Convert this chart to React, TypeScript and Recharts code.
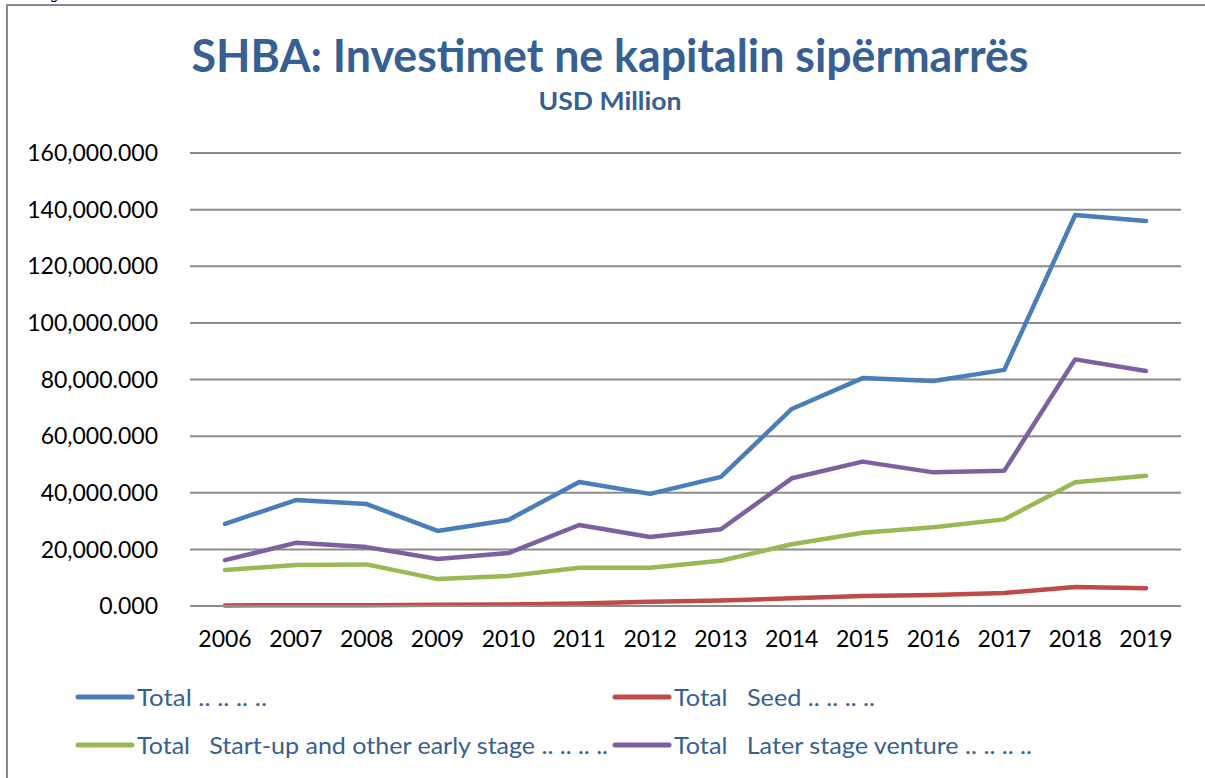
import React from 'react';
import { LineChart, Line, XAxis, YAxis, CartesianGrid, Legend } from 'recharts';

const years = ['2006', '2007', '2008', '2009', '2010', '2011', '2012', '2013', '2014', '2015', '2016', '2017', '2018', '2019'];
const total = [29000, 37400, 36000, 26500, 30400, 43800, 39600, 45600, 69600, 80500, 79500, 83400, 138100, 136000];
const seed = [200, 300, 300, 400, 500, 900, 1500, 1900, 2700, 3500, 3900, 4600, 6700, 6300];
const startup = [12700, 14500, 14700, 9500, 10600, 13500, 13500, 16000, 21800, 25900, 27800, 30600, 43700, 46000];
const later = [16200, 22300, 20800, 16600, 18700, 28600, 24400, 27100, 45100, 51000, 47200, 47800, 87100, 83000];
const yTicks = [0, 20000, 40000, 60000, 80000, 100000, 120000, 140000, 160000];

const series = [
    { key: 'total', name: 'Total .. .. .. ..', color: '#4a7ebb', width: 130 },
    { key: 'seed', name: 'Total   Seed .. .. .. ..', color: '#be4b48', width: 201 },
    { key: 'startup', name: 'Total   Start-up and other early stage .. .. .. ..', color: '#98b954', width: 471 },
    { key: 'later', name: 'Total   Later stage venture .. .. .. ..', color: '#7d60a0', width: 358 },
];

const data = years.map((year, i) => ({
    year,
    total: total[i],
    seed: seed[i],
    startup: startup[i],
    later: later[i],
}));

const fmt = (v: number) => v.toLocaleString('en-US', { minimumFractionDigits: 3, maximumFractionDigits: 3 });

const TEXT_BLUE = '#376092';

const renderLegend = () => {
    // two columns, two rows, like the Excel legend
    const cols = [78, 615];
    const rows = [22, 70];
    return (
        <svg width={1205} height={100}>
            {series.map((s, i) => {
                const x = cols[i % 2];
                const y = rows[Math.floor(i / 2)];
                return (
                    <g key={s.key}>
                        <line x1={x} x2={x + 54} y1={y} y2={y} stroke={s.color} strokeWidth={5} strokeLinecap="round" />
                        <text
                            x={x + 59}
                            y={y + 9}
                            fill={TEXT_BLUE}
                            fontFamily="Lato"
                            fontSize={24}
                            textLength={s.width}
                            lengthAdjust="spacingAndGlyphs"
                            style={{ whiteSpace: 'pre' }}
                        >
                            {s.name}
                        </text>
                    </g>
                );
            })}
        </svg>
    );
};

const App: React.FC = () => {
    return (
        <div style={{ position: 'absolute', left: 0, top: 0, width: 1205, height: 778, overflow: 'hidden', background: '#fff' }}>
            <div
                style={{
                    position: 'absolute',
                    left: 6,
                    top: 4,
                    width: 1210,
                    height: 800,
                    borderLeft: '2px solid #8a8a8a',
                    borderTop: '2px solid #8a8a8a',
                }}
            />
            <svg width={1205} height={120} style={{ position: 'absolute', left: 0, top: 0 }}>
                <text x={52} y={-2} fontFamily="DejaVu Serif" fontStyle="italic" fontSize={18}>y</text>
                <text
                    x={610}
                    y={72}
                    textAnchor="middle"
                    fill={TEXT_BLUE}
                    fontFamily="Lato"
                    fontWeight="bold"
                    fontSize={45}
                    textLength={837}
                    lengthAdjust="spacingAndGlyphs"
                >
                    SHBA: Investimet ne kapitalin sipërmarrës
                </text>
                <text
                    x={610}
                    y={110}
                    textAnchor="middle"
                    fill={TEXT_BLUE}
                    fontFamily="Lato"
                    fontWeight="bold"
                    fontSize={24}
                    textLength={143}
                    lengthAdjust="spacingAndGlyphs"
                >
                    USD Million
                </text>
            </svg>
            <div style={{ position: 'absolute', left: 0, top: 0 }}>
                <LineChart width={1205} height={778} data={data} margin={{ top: 153, right: 24, bottom: 32, left: 40 }}>
                    <CartesianGrid vertical={false} stroke="#8c8c8c" strokeWidth={2} />
                    <XAxis
                        dataKey="year"
                        height={40}
                        axisLine={{ stroke: '#8c8c8c', strokeWidth: 2 }}
                        tickLine={false}
                        tickSize={0}
                        tickMargin={25}
                        padding={{ left: 35, right: 35 }}
                        tick={{ fill: '#000', fontFamily: 'Lato', fontSize: 23 }}
                        interval={0}
                    />
                    <YAxis
                        width={150}
                        domain={[0, 160000]}
                        ticks={yTicks}
                        tickFormatter={fmt}
                        axisLine={false}
                        tickLine={false}
                        tickSize={0}
                        tickMargin={32}
                        tick={{ fill: '#000', fontFamily: 'Lato', fontSize: 23 }}
                    />
                    {series.map((s) => (
                        <Line
                            key={s.key}
                            type="linear"
                            dataKey={s.key}
                            name={s.name}
                            stroke={s.color}
                            strokeWidth={4.5}
                            strokeLinecap="round"
                            strokeLinejoin="round"
                            dot={false}
                            activeDot={false}
                            isAnimationActive={false}
                        />
                    ))}
                    <Legend content={renderLegend} wrapperStyle={{ left: 0, top: 675, width: 1205, height: 100 }} />
                </LineChart>
            </div>
        </div>
    );
};

export default App;
